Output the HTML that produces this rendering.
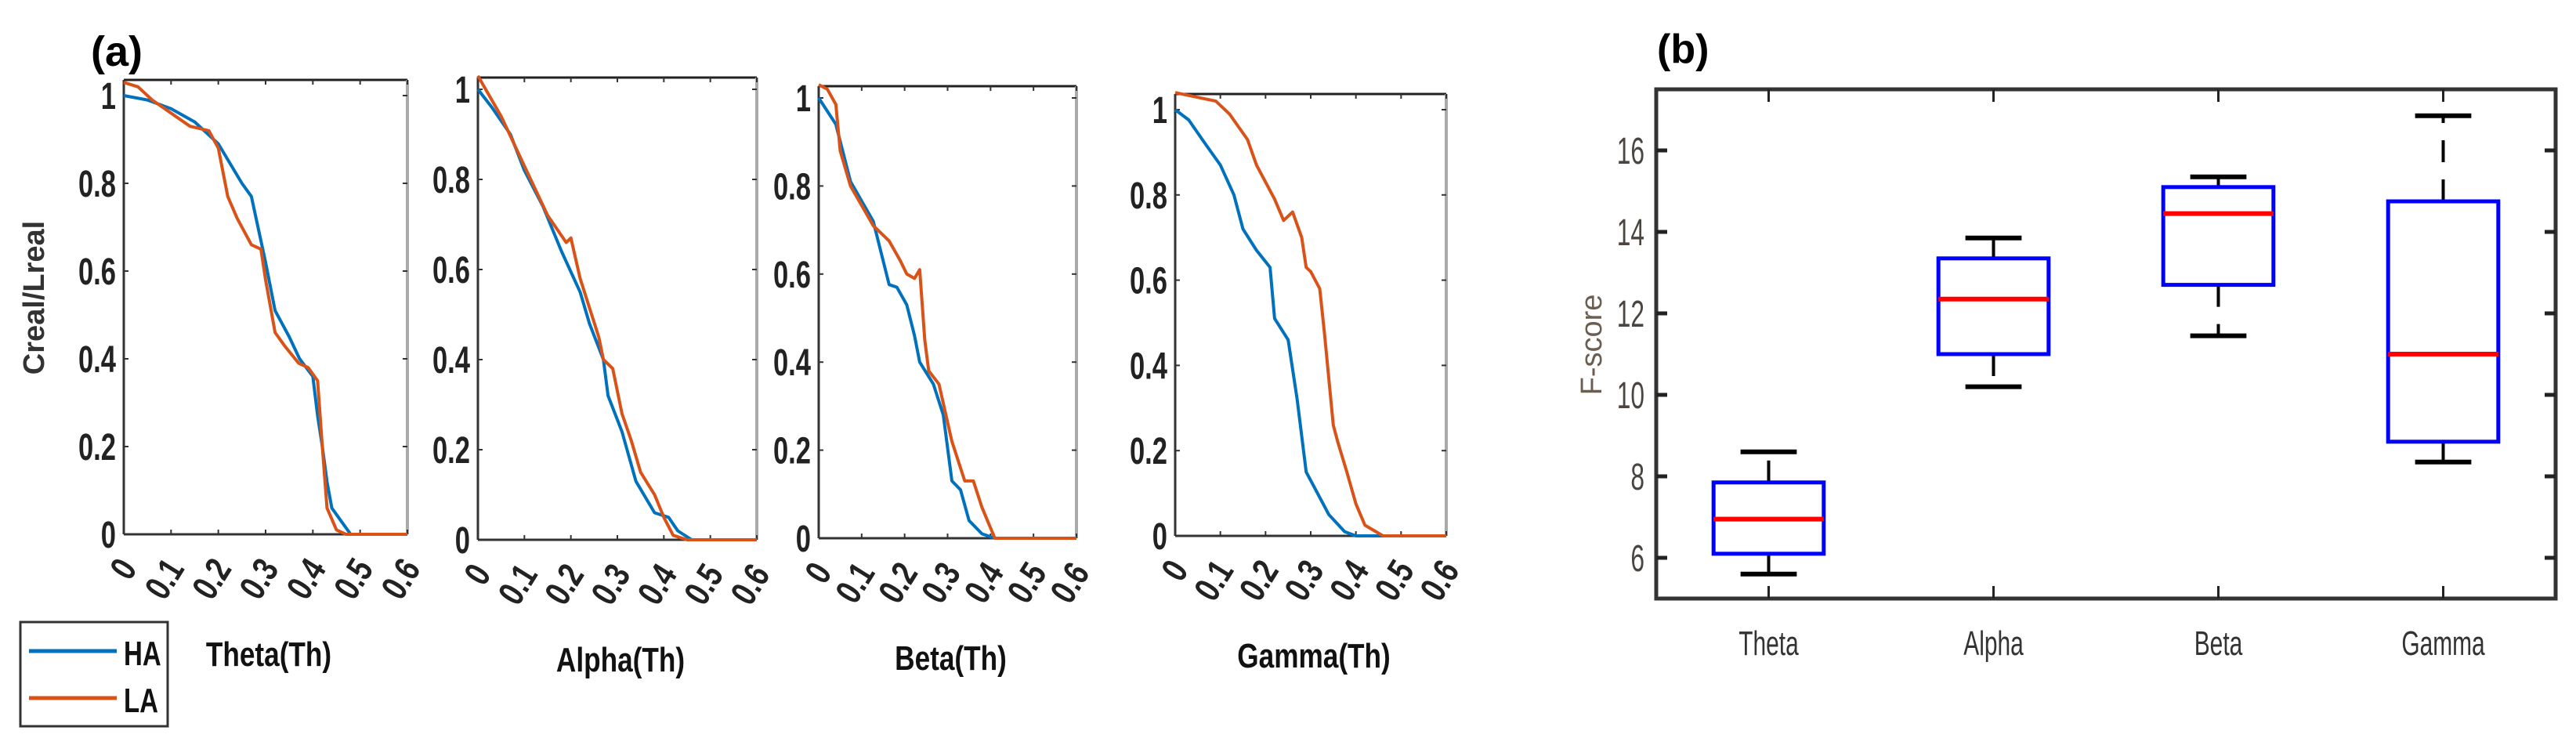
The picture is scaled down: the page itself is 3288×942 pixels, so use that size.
<!DOCTYPE html>
<html><head><meta charset="utf-8"><style>
html,body{margin:0;padding:0;background:#fff}
svg{display:block}
</style></head><body>
<svg id="fig" width="3288" height="942" viewBox="0 0 3288 942" xmlns="http://www.w3.org/2000/svg" font-family="Liberation Sans, sans-serif"></svg>
<script>
// ---------- data: panel (a) ----------
const thetaHAx=[0,0.05,0.1,0.15,0.18,0.2,0.25,0.27,0.28,0.3,0.32,0.35,0.372,0.4,0.41,0.42,0.43,0.44,0.46,0.48,0.6];
const thetaHAy=[1.0,0.99,0.97,0.94,0.91,0.89,0.8,0.77,0.72,0.62,0.51,0.45,0.4,0.36,0.27,0.2,0.12,0.06,0.03,0,0];
const thetaLAx=[0,0.03,0.06,0.1,0.14,0.18,0.2,0.22,0.24,0.27,0.29,0.3,0.32,0.34,0.37,0.39,0.41,0.42,0.43,0.45,0.47,0.6];
const thetaLAy=[1.03,1.02,0.99,0.96,0.93,0.92,0.88,0.77,0.72,0.66,0.65,0.58,0.46,0.43,0.39,0.38,0.35,0.2,0.06,0.01,0,0];
const alphaHAx=[0,0.03,0.07,0.1,0.14,0.18,0.22,0.24,0.27,0.28,0.31,0.34,0.38,0.41,0.43,0.46,0.6];
const alphaHAy=[1.0,0.96,0.9,0.82,0.74,0.64,0.55,0.48,0.40,0.32,0.24,0.13,0.06,0.05,0.02,0,0];
const alphaLAx=[0,0.05,0.1,0.15,0.19,0.2,0.22,0.26,0.27,0.29,0.31,0.33,0.35,0.38,0.4,0.42,0.45,0.6];
const alphaLAy=[1.03,0.94,0.83,0.72,0.66,0.67,0.58,0.45,0.40,0.38,0.28,0.22,0.15,0.10,0.05,0.01,0,0];
const betaHAx=[0,0.04,0.074,0.127,0.164,0.182,0.205,0.223,0.235,0.267,0.29,0.31,0.33,0.35,0.38,0.41,0.6];
const betaHAy=[1.0,0.94,0.81,0.72,0.576,0.57,0.53,0.46,0.40,0.35,0.28,0.13,0.11,0.04,0.01,0,0];
const betaLAx=[0,0.02,0.04,0.05,0.074,0.127,0.164,0.19,0.205,0.223,0.235,0.247,0.256,0.28,0.31,0.34,0.36,0.38,0.41,0.6];
const betaLAy=[1.03,1.02,0.985,0.88,0.80,0.71,0.675,0.63,0.60,0.59,0.61,0.45,0.38,0.35,0.22,0.13,0.13,0.07,0,0];
const gammaHAx=[0,0.03,0.06,0.08,0.1,0.13,0.15,0.18,0.21,0.22,0.25,0.27,0.29,0.31,0.34,0.375,0.4,0.6];
const gammaHAy=[1.0,0.976,0.93,0.9,0.87,0.8,0.72,0.67,0.63,0.51,0.46,0.32,0.15,0.11,0.05,0.01,0,0];
const gammaLAx=[0,0.09,0.12,0.16,0.18,0.22,0.24,0.26,0.28,0.29,0.3,0.32,0.33,0.35,0.36,0.38,0.4,0.42,0.46,0.6];
const gammaLAy=[1.04,1.02,0.99,0.93,0.87,0.79,0.74,0.76,0.70,0.63,0.62,0.58,0.48,0.26,0.22,0.15,0.075,0.025,0,0];
const xTickVals=[0,0.1,0.2,0.3,0.4,0.5,0.6];
const xTickLabels=["0","0.1","0.2","0.3","0.4","0.5","0.6"];
const yTickVals=[0,0.2,0.4,0.6,0.8,1];
const yTickLabels=["0","0.2","0.4","0.6","0.8","1"];
const panelTitles=["Theta(Th)","Alpha(Th)","Beta(Th)","Gamma(Th)"];
// ---------- data: panel (b) ----------
const bands=["Theta","Alpha","Beta","Gamma"];
const whiskerLow=[5.6,10.2,11.45,8.35];
const q1=[6.1,11.0,12.7,8.85];
const medians=[6.95,12.35,14.45,11.0];
const q3=[7.85,13.35,15.1,14.75];
const whiskerHigh=[8.6,13.85,15.35,16.85];
const fTicks=[6,8,10,12,14,16];
const fTickLabels=["6","8","10","12","14","16"];

const NS="http://www.w3.org/2000/svg";
const svg=document.getElementById('fig');
function mk(tag,attrs,parent){const e=document.createElementNS(NS,tag);for(const k in attrs)e.setAttribute(k,attrs[k]);(parent||svg).appendChild(e);return e;}
function txt(s,attrs,parent){const e=mk('text',attrs,parent);e.textContent=s;return e;}

const HA='#0072BD', LA='#D95319';
const panels=[
 {L:158,R:520,T:102,y0:682,y1:122,ha:[thetaHAx,thetaHAy],la:[thetaLAx,thetaLAy],name:'theta'},
 {L:610,R:966,T:99,y0:689,y1:114,ha:[alphaHAx,alphaHAy],la:[alphaLAx,alphaLAy],name:'alpha'},
 {L:1045,R:1374,T:110,y0:687,y1:125,ha:[betaHAx,betaHAy],la:[betaLAx,betaLAy],name:'beta'},
 {L:1500,R:1846,T:120,y0:684,y1:140,ha:[gammaHAx,gammaHAy],la:[gammaLAx,gammaLAy],name:'gamma'}
];
panels.forEach((p,i)=>{
  const g=mk('g',{});
  
  
  const X=v=>p.L+(p.R-p.L)*v/0.6;
  const Y=v=>p.y0-(p.y0-p.y1)*v;
  mk('line',{x1:p.L,y1:p.T,x2:p.R,y2:p.T,stroke:'#222','stroke-width':3},g);
  mk('line',{x1:p.R,y1:p.T,x2:p.R,y2:p.y0,stroke:'#aaa','stroke-width':4},g);
  mk('line',{x1:p.L,y1:p.T,x2:p.L,y2:p.y0,stroke:'#333','stroke-width':3},g);
  mk('line',{x1:p.L,y1:p.y0,x2:p.R,y2:p.y0,stroke:'#333','stroke-width':3},g);
  xTickVals.forEach((v,k)=>{
    mk('line',{x1:X(v),y1:p.y0,x2:X(v),y2:p.y0-6,stroke:'#333','stroke-width':2},g);
    mk('line',{x1:X(v),y1:p.T,x2:X(v),y2:p.T+6,stroke:'#333','stroke-width':2},g);
    const t=txt(xTickLabels[k],{'font-size':46,'font-weight':'bold','text-anchor':'end',fill:'#222',
      transform:`translate(${X(v)+18},${p.y0+44}) rotate(-58) scale(0.78,1)`},g);
    
    
  });
  yTickVals.forEach((v,k)=>{
    mk('line',{x1:p.L,y1:Y(v),x2:p.L+6,y2:Y(v),stroke:'#333','stroke-width':2},g);
    mk('line',{x1:p.R,y1:Y(v),x2:p.R-6,y2:Y(v),stroke:'#333','stroke-width':2},g);
    const t=txt(yTickLabels[k],{'font-size':48,'font-weight':'bold','text-anchor':'end',fill:'#222',
      transform:`translate(${p.L-10},${Y(v)+17}) scale(0.72,1)`},g);
    
    
  });
  [[p.ha,HA,'ha'],[p.la,LA,'la']].forEach(([s,c,n])=>{
    const d=s[0].map((x,k)=>(k?'L':'M')+X(x).toFixed(1)+','+Y(s[1][k]).toFixed(1)).join(' ');
    const path=mk('path',{d:d,fill:'none',stroke:c,'stroke-width':4,'stroke-linejoin':'round'},g);
    
    
  });
  const tt=txt(panelTitles[i],{'font-size':44,'font-weight':'bold','text-anchor':'middle',fill:'#111',
    transform:`translate(${(p.L+p.R)/2+4},${p.y0+168}) scale(0.8,1)`},g);
  
  
});
let t=txt('(a)',{x:116,y:84,'font-size':54,'font-weight':'bold',fill:'#000'});


t=txt('Creal/Lreal',{'font-size':38,'font-weight':'bold','text-anchor':'middle',fill:'#333',transform:'translate(56,380) rotate(-90)'});


const lg=mk('g',{});


mk('rect',{x:26,y:794,width:188,height:133,fill:'#fff',stroke:'#333','stroke-width':3},lg);
let le=mk('line',{x1:37,y1:831,x2:149,y2:831,stroke:HA,'stroke-width':5},lg);


txt('HA',{'font-size':44,'font-weight':'bold',fill:'#111',transform:'translate(158,849) scale(0.75,1)'},lg);
le=mk('line',{x1:37,y1:891,x2:149,y2:891,stroke:LA,'stroke-width':5},lg);


txt('LA',{'font-size':44,'font-weight':'bold',fill:'#111',transform:'translate(158,909) scale(0.75,1)'},lg);

const B={L:2114,R:3262,T:114,Bt:764};
const bx=v=>B.L+(B.R-B.L)*(v-0.5)/4;
const by=v=>B.Bt-(B.Bt-B.T)*(v-5)/12.5;
const gb=mk('g',{});


mk('rect',{x:B.L,y:B.T,width:B.R-B.L,height:B.Bt-B.T,fill:'none',stroke:'#333','stroke-width':5},gb);
fTicks.forEach((v,k)=>{
  mk('line',{x1:B.L,y1:by(v),x2:B.L+14,y2:by(v),stroke:'#222','stroke-width':5},gb);
  mk('line',{x1:B.R,y1:by(v),x2:B.R-14,y2:by(v),stroke:'#222','stroke-width':5},gb);
  const tl=txt(fTickLabels[k],{'font-size':48,'text-anchor':'end',fill:'#4a4540',transform:`translate(${B.L-15},${by(v)+17}) scale(0.66,1)`},gb);
  
  
});
bands.forEach((b,i)=>{
  const cx=bx(i+1);
  mk('line',{x1:cx,y1:B.T,x2:cx,y2:B.T+16,stroke:'#222','stroke-width':3},gb);
  mk('line',{x1:cx,y1:B.Bt,x2:cx,y2:B.Bt-16,stroke:'#222','stroke-width':3},gb);
  const g=mk('g',{},gb);
  
  
  const hw=(B.R-B.L)/4*0.245, cw=(B.R-B.L)/4*0.125;
  mk('line',{x1:cx,y1:by(q3[i]),x2:cx,y2:by(whiskerHigh[i]),stroke:'#000','stroke-width':4,'stroke-dasharray':'28,22'},g);
  mk('line',{x1:cx,y1:by(q1[i]),x2:cx,y2:by(whiskerLow[i]),stroke:'#000','stroke-width':4,'stroke-dasharray':'28,22'},g);
  mk('line',{x1:cx-cw,y1:by(whiskerHigh[i]),x2:cx+cw,y2:by(whiskerHigh[i]),stroke:'#000','stroke-width':6},g);
  mk('line',{x1:cx-cw,y1:by(whiskerLow[i]),x2:cx+cw,y2:by(whiskerLow[i]),stroke:'#000','stroke-width':6},g);
  mk('rect',{x:cx-hw,y:by(q3[i]),width:2*hw,height:by(q1[i])-by(q3[i]),fill:'none',stroke:'#0000ff','stroke-width':5},g);
  mk('line',{x1:cx-hw,y1:by(medians[i]),x2:cx+hw,y2:by(medians[i]),stroke:'#ff0000','stroke-width':6},g);
  const cl=txt(b,{'font-size':44,'text-anchor':'middle',fill:'#333',transform:`translate(${cx},${836}) scale(0.68,1)`},gb);
  
  
});
t=txt('F-score',{'font-size':38,'text-anchor':'middle',fill:'#6b5d50',transform:'translate(2044,440) rotate(-90)'});


t=txt('(b)',{x:2115,y:80,'font-size':52,'font-weight':'bold',fill:'#000'});


</script>
</body></html>
